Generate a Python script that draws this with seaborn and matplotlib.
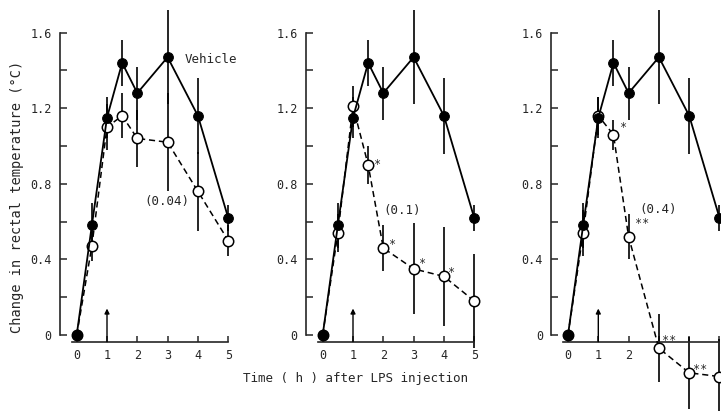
import numpy as np
import pandas as pd
import matplotlib
matplotlib.use('Agg')
import matplotlib.pyplot as plt
import seaborn as sns

# ── Data ─────────────────────────────────────────────────────────────────────
times = [0, 0.5, 1, 1.5, 2, 3, 4, 5]

vehicle_mean = [0, 0.58, 1.15, 1.44, 1.28, 1.47, 1.16, 0.62]
vehicle_sem  = [0, 0.12, 0.11, 0.12, 0.14, 0.25, 0.20, 0.07]

dose_labels = ['(0.04)', '(0.1)', '(0.4)']
low_mean  = [0, 0.47, 1.10, 1.16, 1.04, 1.02, 0.76, 0.50]
low_sem   = [0, 0.08, 0.12, 0.12, 0.15, 0.26, 0.21, 0.08]
mid_mean  = [0, 0.54, 1.21, 0.90, 0.46, 0.35, 0.31, 0.18]
mid_sem   = [0, 0.10, 0.11, 0.10, 0.12, 0.24, 0.26, 0.25]
high_mean = [0, 0.54, 1.16, 1.06, 0.52, -0.07, -0.20, -0.22]
high_sem  = [0, 0.12, 0.10, 0.08, 0.12, 0.18, 0.19, 0.20]

# significance marks: (time, y, text)
low_stars  = []
mid_stars  = [(1.82, 0.93, '*'), (2.31, 0.51, '*'), (3.29, 0.41, '*'), (4.25, 0.36, '*')]
high_stars = [(1.85, 1.13, '*'), (2.46, 0.62, '**'), (3.34, 0.0, '**'), (4.36, -0.15, '**')]

dose_label_pos = [(2.97, 0.705), (2.63, 0.66), (2.97, 0.665)]

xticks = [0, 1, 2, 3, 4, 5]
yticks = [0, 0.4, 0.8, 1.2, 1.6]
ytick_labels = ['0', '0.4', '0.8', '1.2', '1.6']

# ── Style ────────────────────────────────────────────────────────────────────
sns.set_style('ticks')
plt.rcParams['font.family'] = ['DejaVu Sans Mono', 'DejaVu Sans']

W, H = 721, 411
fig = plt.figure(figsize=(W / 100, H / 100), dpi=100)

XLIM = (-0.55, 5.3)
YLIM = (-0.40, 1.77)
PX_X, PX_Y = 30.3, 189.0      # pixels per hour / per degree
Y0_PX = 335.0                 # pixel row of y = 0
panel_x0 = [76.7, 322.7, 568.0]  # pixel column of t = 0 in each panel

treated = [
    (low_mean, low_sem, low_stars),
    (mid_mean, mid_sem, mid_stars),
    (high_mean, high_sem, high_stars),
]

for i, (t_mean, t_sem, stars) in enumerate(treated):
    left = (panel_x0[i] + XLIM[0] * PX_X) / W
    width = (XLIM[1] - XLIM[0]) * PX_X / W
    top_px = Y0_PX - YLIM[1] * PX_Y
    bottom = (H - (Y0_PX - YLIM[0] * PX_Y)) / H
    height = (YLIM[1] - YLIM[0]) * PX_Y / H
    ax = fig.add_axes([left, bottom, width, height])

    df = pd.DataFrame({'t': times,
                       'veh': vehicle_mean, 'veh_e': vehicle_sem,
                       'trt': t_mean, 'trt_e': t_sem})

    # error bars (no caps)
    ax.vlines(df['t'], df['veh'] - df['veh_e'], df['veh'] + df['veh_e'],
              color='black', lw=1.2, zorder=2)
    ax.vlines(df['t'][1:], (df['trt'] - df['trt_e'])[1:], (df['trt'] + df['trt_e'])[1:],
              color='black', lw=1.2, zorder=2)

    sns.lineplot(data=df, x='t', y='trt', ax=ax, color='black', lw=1.1,
                 linestyle=(0, (4, 2.5)), marker='o', markersize=7.5,
                 markerfacecolor='white', markeredgecolor='black',
                 markeredgewidth=1.1, zorder=3)
    sns.lineplot(data=df, x='t', y='veh', ax=ax, color='black', lw=1.3,
                 marker='o', markersize=7, markerfacecolor='black',
                 markeredgecolor='black', zorder=4)

    ax.set_xlim(*XLIM)
    ax.set_ylim(*YLIM)
    ax.set_xlabel('')
    ax.set_ylabel('')

    for s in ['top', 'right']:
        ax.spines[s].set_visible(False)
    ax.spines['bottom'].set_position(('data', -0.035))
    ax.spines['bottom'].set_bounds(-0.15, 5)
    ax.spines['left'].set_bounds(0, 1.6)
    ax.spines['left'].set_linewidth(1.2)
    ax.spines['bottom'].set_linewidth(1.2)

    ax.set_yticks(yticks)
    ax.set_yticklabels(ytick_labels)
    ax.set_yticks([0.2, 0.6, 1.0, 1.4], minor=True)
    ax.tick_params(axis='y', which='both', direction='in', length=5, width=1.1,
                   pad=6, labelsize=8.5)
    ax.set_xticks(xticks)
    if i == 2:
        ax.set_xticklabels(['0', '1', '2', '', '', ''])
    else:
        ax.set_xticklabels([str(x) for x in xticks])
    ax.tick_params(axis='x', direction='in', length=4, width=1.1, pad=5, labelsize=8.5)

    # injection arrow
    ax.annotate('', xy=(1, 0.14), xytext=(1, -0.035),
                arrowprops=dict(arrowstyle='-|>', color='black', lw=1.0,
                                mutation_scale=7, shrinkA=0, shrinkB=0))

    ax.text(*dose_label_pos[i], dose_labels[i], ha='center', va='center', fontsize=9)
    for sx, sy, st in stars:
        ax.text(sx, sy - 0.03, st, ha='center', va='center', fontsize=8.5)

    if i == 0:
        ax.text(3.55, 1.46, 'Vehicle', ha='left', va='center', fontsize=9)

fig.text(355.8 / W, 1 - 378 / H, 'Time ( h ) after LPS injection',
         ha='center', va='center', fontsize=9)
fig.text(17 / W, 1 - 197 / H, 'Change in rectal temperature (°C)',
         ha='center', va='center', rotation=90, fontsize=9.8)

fig.savefig('out.png', dpi=100)
